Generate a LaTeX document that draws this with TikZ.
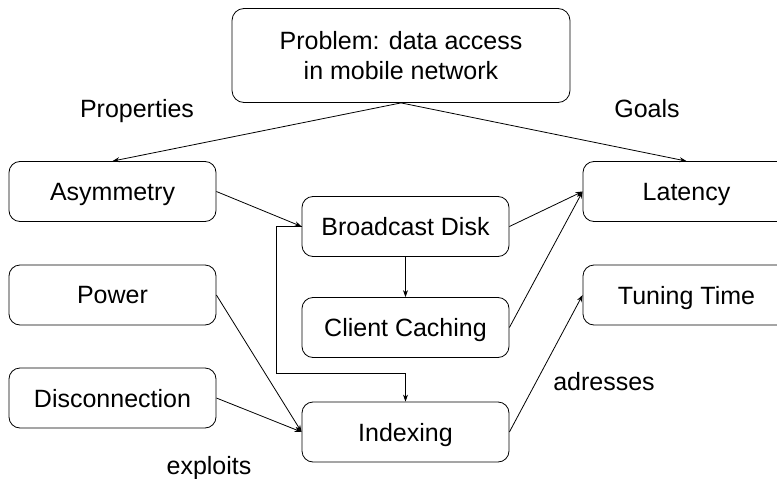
\documentclass[tikz,border=0pt]{standalone}
\usepackage{fontspec}
\setmainfont{Liberation Sans}
\usetikzlibrary{arrows.meta}
\begin{document}
\begin{tikzpicture}[x=1pt,y=-1pt,
  txt/.style={font=\fontsize{25}{30.5}\selectfont},
  box/.style={txt, draw, rounded corners=11pt, minimum width=207pt, minimum height=60pt, line width=0.8pt, inner sep=0pt, align=center},
  sbox/.style={box, text depth=0pt},
  lbl/.style={txt, text depth=0pt},
  arr/.style={-{Stealth[length=7pt,width=5pt]}, line width=0.8pt}]
\useasboundingbox (0,0) rectangle (777,479);
\begin{scope}
\clip (0,0) rectangle (777,479);
\node[box, minimum width=338pt, minimum height=94pt, rounded corners=12pt] (prob) at (401,55.5) {Problem: data access\\in mobile network};
\node[sbox] (asym) at (112.5,191.5) {Asymmetry};
\node[sbox] (lat) at (686.5,191.5) {Latency};
\node[sbox] (bd) at (405.5,226.5) {Broadcast Disk};
\node[sbox] (cc) at (405.5,327.5) {Client Caching};
\node[sbox] (pow) at (112.5,295) {Power};
\node[sbox] (tt) at (686.5,295) {Tuning Time};
\node[sbox] (dis) at (112.5,398) {Disconnection};
\node[sbox] (idx) at (405.5,432) {Indexing};
\end{scope}
\node[lbl] (lprop) at (137,108) {Properties};
\node[lbl] (lgoal) at (647,108) {Goals};
\node[lbl] (ladr) at (604,381) {adresses};
\node[lbl] (lexp) at (209,465) {exploits};
\coordinate (bend) at (276,373);
\draw[arr] (prob.south) -- (asym.north);
\draw[arr] (prob.south) -- (lat.north);
\draw[arr] (asym.east) -- (bd.west);
\draw[arr] (bd.east) -- (lat.west);
\draw[arr] (cc.east) -- (lat.west);
\draw[arr] (bd.south) -- (cc.north);
\draw[arr] (bd.west) -| (bend) -| (idx.north);
\draw[arr] (pow.east) -- (idx.west);
\draw[arr] (dis.east) -- (idx.west);
\draw[arr] (idx.east) -- (tt.west);
\end{tikzpicture}
\end{document}
